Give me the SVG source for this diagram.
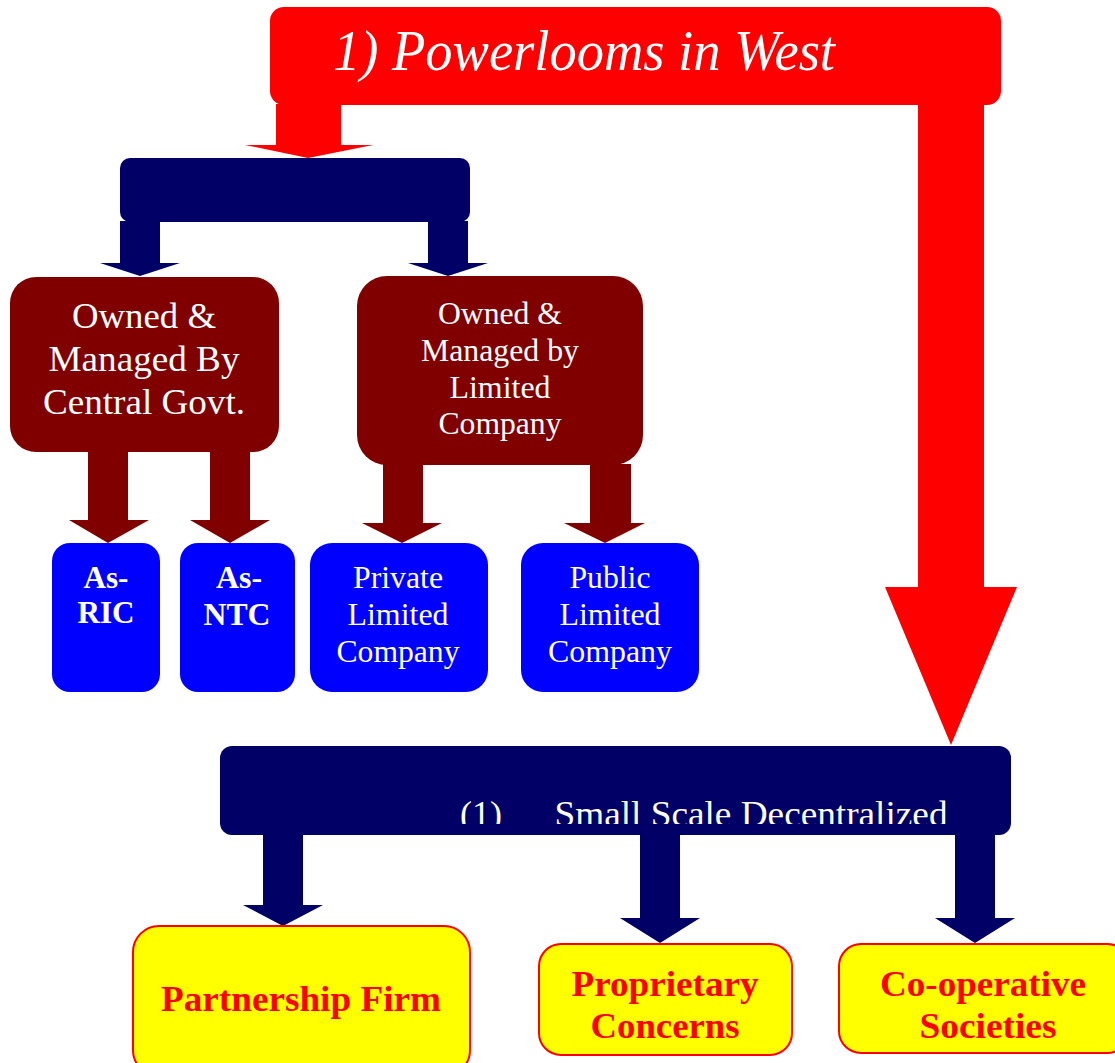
<svg xmlns="http://www.w3.org/2000/svg" width="1115" height="1063" viewBox="0 0 1115 1063">
<style>
text{font-family:"Liberation Serif","Times New Roman",serif;text-anchor:middle}
.w{fill:#fff}
.b{font-weight:bold}
.r{fill:#ff0000}
.navy{fill:#000066}
.maroon{fill:#800000}
.blue{fill:#0000ff}
.red{fill:#ff0000}
.yel{fill:#ffff00;stroke:#ff0000;stroke-width:2}
</style>
<defs>
<clipPath id="clipSS"><rect x="220" y="746" width="791" height="78"/></clipPath>
</defs>
<g id="connectors">
<polygon class="red" points="276,104 341,104 341,145 373,145 308,158 245,145 276,145"/>
<polygon class="red" points="918,104 984,104 984,587 1017,587 951,745 885,587 918,587"/>
<polygon class="navy" points="120,221 160,221 160,263 180,263 140,276 100,263 120,263"/>
<polygon class="navy" points="428,221 468,221 468,263 488,263 448,276 408,263 428,263"/>
<polygon class="maroon" points="88,451 128,451 128,520 149,520 108,543 69,520 88,520"/>
<polygon class="maroon" points="210,451 250,451 250,520 270,520 230,543 190,520 210,520"/>
<polygon class="maroon" points="383,464 423,464 423,523 442,523 402,543 362,523 383,523"/>
<polygon class="maroon" points="590,464 631,464 631,523 645,523 605,543 564,523 590,523"/>
<polygon class="navy" points="263,834 303,834 303,905 323,905 283,926 243,905 263,905"/>
<polygon class="navy" points="640,834 680,834 680,918 700,918 660,943 620,918 640,918"/>
<polygon class="navy" points="955,834 995,834 995,918 1015,918 975,943 935,918 955,918"/>
</g>
<g id="title">
<rect class="red" x="270" y="7" width="731" height="98" rx="14"/>
<text class="w" x="584" y="70" font-size="57" font-style="italic" textLength="502" lengthAdjust="spacingAndGlyphs">1) Powerlooms in West</text>
</g>
<g id="navybar">
<rect class="navy" x="120" y="158" width="350" height="64" rx="10"/>
</g>
<g id="central">
<rect class="maroon" x="10" y="277" width="269" height="175" rx="26"/>
<text class="w" font-size="36" x="144" y="328" textLength="144" lengthAdjust="spacingAndGlyphs">Owned &amp;</text>
<text class="w" font-size="36" x="144" y="371" textLength="191" lengthAdjust="spacingAndGlyphs">Managed By</text>
<text class="w" font-size="36" x="144" y="414" textLength="202" lengthAdjust="spacingAndGlyphs">Central Govt.</text>
</g>
<g id="limited">
<rect class="maroon" x="357" y="276" width="286" height="189" rx="30"/>
<text class="w" font-size="32" x="500" y="324" textLength="124" lengthAdjust="spacingAndGlyphs">Owned &amp;</text>
<text class="w" font-size="32" x="500" y="361" textLength="158" lengthAdjust="spacingAndGlyphs">Managed by</text>
<text class="w" font-size="32" x="500" y="398" textLength="101" lengthAdjust="spacingAndGlyphs">Limited</text>
<text class="w" font-size="32" x="500" y="434" textLength="123" lengthAdjust="spacingAndGlyphs">Company</text>
</g>
<g id="ric">
<rect class="blue" x="52" y="543" width="108" height="149" rx="18"/>
<text class="w b" font-size="32" x="106" y="588" textLength="45" lengthAdjust="spacingAndGlyphs">As-</text>
<text class="w b" font-size="32" x="106" y="623" textLength="57" lengthAdjust="spacingAndGlyphs">RIC</text>
</g>
<g id="ntc">
<rect class="blue" x="180" y="543" width="115" height="149" rx="18"/>
<text class="w b" font-size="32" x="239" y="588" textLength="46" lengthAdjust="spacingAndGlyphs">As-</text>
<text class="w b" font-size="32" x="237" y="625" textLength="67" lengthAdjust="spacingAndGlyphs">NTC</text>
</g>
<g id="private">
<rect class="blue" x="310" y="543" width="178" height="149" rx="22"/>
<text class="w" font-size="31" x="398" y="588" textLength="90" lengthAdjust="spacingAndGlyphs">Private</text>
<text class="w" font-size="31" x="398" y="625" textLength="101" lengthAdjust="spacingAndGlyphs">Limited</text>
<text class="w" font-size="31" x="398" y="662" textLength="123" lengthAdjust="spacingAndGlyphs">Company</text>
</g>
<g id="public">
<rect class="blue" x="521" y="543" width="178" height="149" rx="22"/>
<text class="w" font-size="31" x="610" y="588" textLength="81" lengthAdjust="spacingAndGlyphs">Public</text>
<text class="w" font-size="31" x="610" y="625" textLength="101" lengthAdjust="spacingAndGlyphs">Limited</text>
<text class="w" font-size="31" x="610" y="662" textLength="124" lengthAdjust="spacingAndGlyphs">Company</text>
</g>
<g id="smallscale">
<rect class="navy" x="220" y="746" width="791" height="89" rx="12"/>
<g clip-path="url(#clipSS)">
<text class="w" font-size="36" x="481" y="826" textLength="42" lengthAdjust="spacingAndGlyphs">(1)</text>
<text class="w" font-size="36" x="751" y="826" textLength="393" lengthAdjust="spacingAndGlyphs">Small Scale Decentralized</text>
</g>
</g>
<g id="partnership">
<rect class="yel" x="133" y="926" width="337" height="150" rx="26"/>
<text class="r b" font-size="36" x="301" y="1011" textLength="280" lengthAdjust="spacingAndGlyphs">Partnership Firm</text>
</g>
<g id="proprietary">
<rect class="yel" x="539" y="944" width="253" height="111" rx="22"/>
<text class="r b" font-size="36" x="665" y="996" textLength="187" lengthAdjust="spacingAndGlyphs">Proprietary</text>
<text class="r b" font-size="36" x="665" y="1038" textLength="149" lengthAdjust="spacingAndGlyphs">Concerns</text>
</g>
<g id="cooperative">
<rect class="yel" x="839" y="944" width="290" height="109" rx="22"/>
<text class="r b" font-size="36" x="983" y="996" textLength="206" lengthAdjust="spacingAndGlyphs">Co-operative</text>
<text class="r b" font-size="36" x="988" y="1038" textLength="137" lengthAdjust="spacingAndGlyphs">Societies</text>
</g>
</svg>
